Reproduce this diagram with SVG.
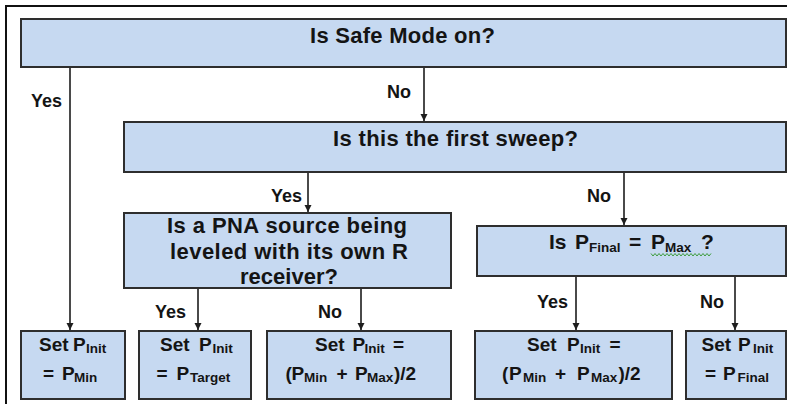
<svg xmlns="http://www.w3.org/2000/svg" width="787" height="404" viewBox="0 0 787 404">
<style>
  .box{fill:#c6d9f1;stroke:#2e2e2e;stroke-width:2}
  text{font-family:"Liberation Sans",Arial,sans-serif;font-weight:bold;fill:#141414}
  .q{font-size:22px}
  .q2{font-size:22px}
  .q3{font-size:21px}
  .t{font-size:19px}
  .sub{font-size:13.5px}
  .sq{font-size:13.5px}
  .lbl{font-size:18px}
  .conn line{stroke:#4a4a4a;stroke-width:2;fill:none}
  .frame{stroke:#111;stroke-width:2;fill:none}
</style>
<defs>
  <marker id="ah" markerUnits="userSpaceOnUse" markerWidth="8" markerHeight="8" refX="7" refY="3.5" orient="auto">
    <path d="M0,0 L7,3.5 L0,7 z" fill="#1e1e1e"/>
  </marker>
</defs>
<rect width="787" height="404" fill="#fff"/>
<path class="frame" d="M6,404 V6 H787"/>

<g id="connectors" class="conn">
  <line x1="70" y1="67" x2="70" y2="330" marker-end="url(#ah)"/>
  <line x1="424" y1="67" x2="424" y2="121" marker-end="url(#ah)"/>
  <line x1="308" y1="172" x2="308" y2="212" marker-end="url(#ah)"/>
  <line x1="624" y1="172" x2="624" y2="225" marker-end="url(#ah)"/>
  <line x1="198" y1="288" x2="198" y2="330" marker-end="url(#ah)"/>
  <line x1="361" y1="288" x2="361" y2="330" marker-end="url(#ah)"/>
  <line x1="576" y1="276" x2="576" y2="330" marker-end="url(#ah)"/>
  <line x1="735" y1="276" x2="735" y2="330" marker-end="url(#ah)"/>
  <text class="lbl" x="31" y="107">Yes</text>
  <text class="lbl" x="387" y="98">No</text>
  <text class="lbl" x="271" y="202">Yes</text>
  <text class="lbl" x="587" y="202">No</text>
  <text class="lbl" x="155" y="318">Yes</text>
  <text class="lbl" x="318" y="318">No</text>
  <text class="lbl" x="537" y="308">Yes</text>
  <text class="lbl" x="700" y="308">No</text>
</g>

<g id="safe-mode">
  <rect class="box" x="21" y="19" width="765" height="48"/>
  <text class="q" x="310" y="43" textLength="185" lengthAdjust="spacing">Is Safe Mode on?</text>
</g>

<g id="first-sweep">
  <rect class="box" x="124" y="122" width="662" height="50"/>
  <text class="q" x="333" y="146" textLength="245" lengthAdjust="spacing">Is this the first sweep?</text>
</g>

<g id="pna-source">
  <rect class="box" x="124" y="213" width="327" height="75"/>
  <text class="q2" x="167" y="233" textLength="240" lengthAdjust="spacing">Is a PNA source being</text>
  <text class="q2" x="170" y="259" textLength="238" lengthAdjust="spacing">leveled with its own R</text>
  <text class="q2" x="240" y="284" textLength="98" lengthAdjust="spacing">receiver?</text>
</g>

<g id="pfinal-pmax">
  <rect class="box" x="477" y="226" width="309" height="50"/>
  <text class="q3" y="249"><tspan x="549">Is </tspan><tspan x="575">P</tspan><tspan class="sq" x="589" dy="3">Final </tspan><tspan x="629" dy="-3">= </tspan><tspan x="651">P</tspan><tspan class="sq" x="665" dy="3">Max </tspan><tspan x="701" dy="-3">?</tspan></text>
  <polyline points="651,253.5 653,256 655,253.5 657,256 659,253.5 661,256 663,253.5 665,256 667,253.5 669,256 671,253.5 673,256 675,253.5 677,256 679,253.5 681,256 683,253.5 685,256 687,253.5 689,256 691,253.5 693,256 695,253.5 697,256 699,253.5 701,256 703,253.5 705,256 707,253.5 709,256 711,253.5" fill="none" stroke="#3c9c3c" stroke-width="1"/>
</g>

<g id="set-pmin">
  <rect class="box" x="21" y="331" width="104" height="68"/>
  <text class="t" y="351"><tspan x="39">Set </tspan><tspan x="73">P</tspan><tspan class="sub" x="86" dy="2">Init</tspan></text>
  <text class="t" y="380"><tspan x="43">= </tspan><tspan x="62">P</tspan><tspan class="sub" x="74" dy="2">Min</tspan></text>
</g>

<g id="set-ptarget">
  <rect class="box" x="139" y="331" width="112" height="68"/>
  <text class="t" y="351"><tspan x="160">Set </tspan><tspan x="199">P</tspan><tspan class="sub" x="212.5" dy="2">Init</tspan></text>
  <text class="t" y="380"><tspan x="156.5">= </tspan><tspan x="176.5">P</tspan><tspan class="sub" x="190" dy="2">Target</tspan></text>
</g>

<g id="set-avg-1">
  <rect class="box" x="267" y="331" width="184" height="68"/>
  <text class="t" y="351"><tspan x="315">Set </tspan><tspan x="352.5">P</tspan><tspan class="sub" x="364.5" dy="2">Init </tspan><tspan x="393" dy="-2">=</tspan></text>
  <text class="t" y="380"><tspan x="285.5">(</tspan><tspan x="291.5">P</tspan><tspan class="sub" x="304" dy="2">Min </tspan><tspan x="336.5" dy="-2">+ </tspan><tspan x="355">P</tspan><tspan class="sub" x="367" dy="2">Max</tspan><tspan x="394" dy="-2">)/2</tspan></text>
</g>

<g id="set-avg-2">
  <rect class="box" x="475" y="331" width="197" height="68"/>
  <text class="t" y="351"><tspan x="527">Set </tspan><tspan x="567">P</tspan><tspan class="sub" x="580" dy="2">Init </tspan><tspan x="609.5" dy="-2">=</tspan></text>
  <text class="t" y="380"><tspan x="502">(</tspan><tspan x="509">P</tspan><tspan class="sub" x="523" dy="2">Min </tspan><tspan x="555" dy="-2">+ </tspan><tspan x="577">P</tspan><tspan class="sub" x="591" dy="2">Max</tspan><tspan x="618.5" dy="-2">)/2</tspan></text>
</g>

<g id="set-pfinal">
  <rect class="box" x="686" y="331" width="100" height="68"/>
  <text class="t" y="351"><tspan x="701.5">Set </tspan><tspan x="738">P</tspan><tspan class="sub" x="753" dy="2">Init</tspan></text>
  <text class="t" y="380"><tspan x="705">= </tspan><tspan x="723">P</tspan><tspan class="sub" x="737.5" dy="2">Final</tspan></text>
</g>
</svg>
